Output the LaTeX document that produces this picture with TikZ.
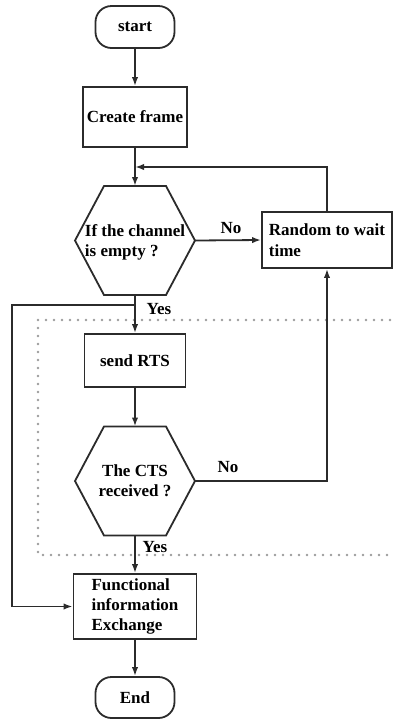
\documentclass[tikz,border=0pt]{standalone}
\usepackage{fontspec}
\setmainfont{Liberation Serif}
\usetikzlibrary{arrows.meta,positioning,calc}
\definecolor{ink}{HTML}{2B2B2B}
\definecolor{dotgray}{HTML}{9C9C9C}
\tikzset{
  termbox/.style={draw=ink,line width=0.9pt,rounded corners=8pt,
                  minimum width=39.5pt,minimum height=21pt,
                  align=center,font=\fontsize{8.5pt}{10pt}\selectfont\bfseries,inner sep=2pt},
  procbox/.style={draw=ink,line width=0.9pt,
                  align=left,font=\fontsize{8.5pt}{10.2pt}\selectfont\bfseries,inner sep=2pt},
  hexq/.style={draw=none,outer sep=0pt,
               minimum width=60pt,minimum height=54.5pt,
               align=center,font=\fontsize{8.5pt}{10pt}\selectfont\bfseries,inner sep=2pt},
  tag/.style={font=\fontsize{8.5pt}{10pt}\selectfont\bfseries,inner sep=1pt},
  flowarr/.style={-{Latex[length=4.5pt,width=3.2pt]},line width=0.9pt,draw=ink},
  fence/.style={dotgray,line width=1.4pt,line cap=round,dash pattern=on 0pt off 4pt}
}
\begin{document}
\begin{tikzpicture}[x=0.5pt,y=0.5pt]
  \useasboundingbox (0,0) rectangle (393,-719);

  % main column
  \node[termbox] (start) at (135,-27) {start};
  \node[procbox,minimum width=51pt,minimum height=30pt] (create) at (135,-117) {Create frame};
  \node[hexq,align=left,text depth=-4pt] (q1) at (135,-240.5) {If the channel\\is empty ?};
  \node[procbox,minimum width=65pt,minimum height=28pt] (wait) at (327,-240) {Random to wait\\time};
  \node[procbox,minimum width=50.5pt,minimum height=26.5pt] (rts) at (135,-360.5) {send RTS};
  \node[hexq] (q2) at (135,-481) {The CTS\\received ?};
  \node[procbox,minimum width=61.5pt,minimum height=32.5pt] (info) at (135,-606.5) {Functional\\information\\Exchange};
  \node[termbox,minimum height=20.5pt] (end) at (135,-697.5) {End};

  % hexagon outlines
  \foreach \q in {q1,q2}
    \draw[line width=0.9pt,draw=ink]
      ($(\q.north west)+(14.5pt,0)$) -- ($(\q.north east)+(-14.5pt,0)$) -- (\q.east)
      -- ($(\q.south east)+(-14.5pt,0)$) -- ($(\q.south west)+(14.5pt,0)$) -- (\q.west) -- cycle;

  \coordinate (join) at (135,-167);
  \coordinate (split) at (135,-305);

  % dotted frame
  \draw[fence] (390,-320) -| (38,-555) -- (390,-555);

  % connectors
  \draw[flowarr] (start) -- (create);
  \draw[flowarr] (create) -- (q1);
  \draw[flowarr] (q1.east) -- (wait.west);
  \draw[flowarr] (wait.north) |- (join);
  \draw[flowarr] (q1) -- (rts);
  \draw[flowarr] (split) -- ++(-123,0) |- (info.west);
  \draw[flowarr] (rts) -- (q2);
  \draw[flowarr] (q2.east) -| (wait.south);
  \draw[flowarr] (q2) -- (info);
  \draw[flowarr] (info) -- (end);

  % labels
  \node[tag] (no1) at (231,-228) {No};
  \node[tag] (yes1) at (159,-309) {Yes};
  \node[tag] (no2) at (228,-467) {No};
  \node[tag] (yes2) at (155,-547) {Yes};
\end{tikzpicture}
\end{document}
